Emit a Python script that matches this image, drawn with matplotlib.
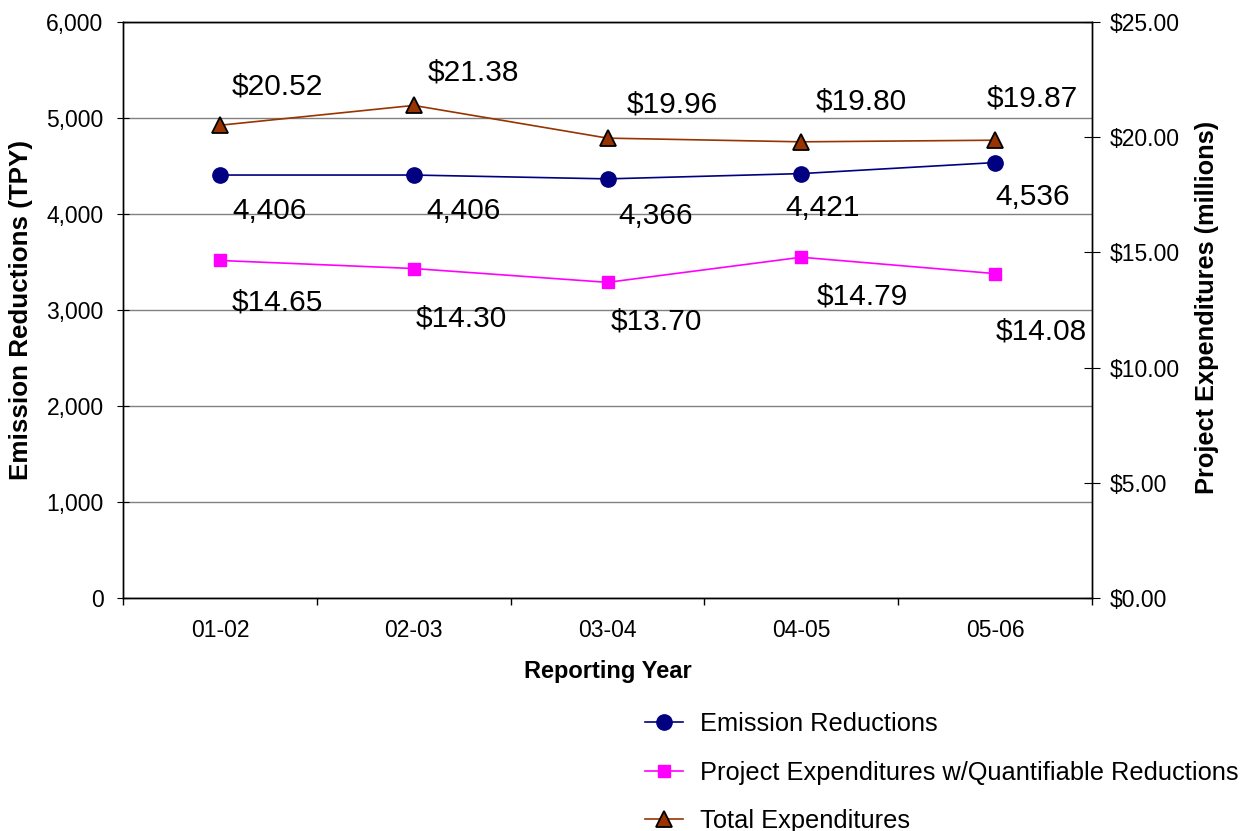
import numpy as np
import matplotlib.pyplot as plt
from matplotlib.lines import Line2D

plt.rcParams['font.family'] = ['Liberation Sans', 'DejaVu Sans']

# data
years = ['01-02', '02-03', '03-04', '04-05', '05-06']
emissions = [4406, 4406, 4366, 4421, 4536]          # TPY, left axis
project_exp = [14.65, 14.30, 13.70, 14.79, 14.08]   # $ millions, right axis
total_exp = [20.52, 21.38, 19.96, 19.80, 19.87]     # $ millions, right axis

# label offsets (points) for the data labels
em_off = [(36, -26), (36, -26), (35, -27), (15, -25), (27, -25)]
pr_off = [(41, -30), (34, -36), (35, -28), (44, -28), (33, -42)]
to_off = [(41, 28), (43, 24), (47, 24), (43, 29), (27, 30)]

navy = '#000080'
magenta = '#FF00FF'
brown = '#993300'

fig = plt.figure(figsize=(12.53, 8.31), dpi=100)
ax = fig.add_axes([0.0982, 0.2804, 0.7733, 0.6931])
ax2 = ax.twinx()

x = np.arange(len(years))

em_style = dict(color=navy, lw=1.2, marker='o', ms=11, mfc=navy, mec=navy)
pr_style = dict(color=magenta, lw=1.2, marker='s', ms=9, mfc=magenta, mec=magenta)
to_style = dict(color=brown, lw=1.2, marker='^', ms=11.5, mfc=brown, mec='black', mew=1.3)

ax.plot(x, emissions, zorder=3, **em_style)
ax2.plot(x, project_exp, zorder=3, **pr_style)
ax2.plot(x, total_exp, zorder=3, **to_style)

lab_size = 21.5
for i in range(len(years)):
    ax.annotate(f'{emissions[i]:,}', (x[i], emissions[i]), xytext=em_off[i],
                textcoords='offset points', ha='center', va='center', fontsize=lab_size)
    ax2.annotate(f'${project_exp[i]:.2f}', (x[i], project_exp[i]), xytext=pr_off[i],
                 textcoords='offset points', ha='center', va='center', fontsize=lab_size)
    ax2.annotate(f'${total_exp[i]:.2f}', (x[i], total_exp[i]), xytext=to_off[i],
                 textcoords='offset points', ha='center', va='center', fontsize=lab_size)

ax.set_xlim(-0.5, len(years) - 0.5)
ax.set_ylim(0, 6000)
ax2.set_ylim(0, 25)
ax.set_yticks(np.arange(0, 6001, 1000))
ax.set_yticklabels([f'{v:,}' for v in range(0, 6001, 1000)])
ax2.set_yticks(np.arange(0, 25.1, 5))
ax2.set_yticklabels([f'${v:.2f}' for v in np.arange(0, 25.1, 5)])

ax.set_xticks(x)
ax.set_xticklabels(years)
ax.set_xticks(np.arange(-0.5, len(years), 1), minor=True)
tick_size = 16.5
ax.tick_params(axis='x', which='major', length=0, pad=15, labelsize=tick_size)
ax.tick_params(axis='x', which='minor', length=5, direction='out', width=1)
ax.tick_params(axis='y', length=8, direction='inout', pad=10, labelsize=tick_size)
ax2.tick_params(axis='y', length=11, direction='inout', pad=7, labelsize=tick_size)

ax.yaxis.grid(True, color='#808080', lw=1)
ax.set_axisbelow(True)
for sp in list(ax.spines.values()) + list(ax2.spines.values()):
    sp.set_color('black')
    sp.set_linewidth(1)

ax.set_xlabel('Reporting Year', fontsize=17, fontweight='bold')
ax.set_ylabel('Emission Reductions (TPY)', fontsize=18.7, fontweight='bold')
ax2.set_ylabel('Project Expenditures (millions)', fontsize=18.3, fontweight='bold')
ax.xaxis.set_label_coords(0.5, -0.107)
ax.yaxis.set_label_coords(-0.093, 0.5)
ax2.yaxis.set_label_coords(1.106, 0.505)

handles = [Line2D([], [], **em_style), Line2D([], [], **pr_style),
           Line2D([], [], **to_style)]
labels = ['Emission Reductions', 'Project Expenditures w/Quantifiable Reductions',
          'Total Expenditures']
fig.legend(handles, labels, loc='upper left', bbox_to_anchor=(0.5068, 0.1556),
           frameon=False, fontsize=18.3, handlelength=1.5, handletextpad=0.67,
           labelspacing=0.97, borderaxespad=0)

fig.savefig('out.png', dpi=100)
